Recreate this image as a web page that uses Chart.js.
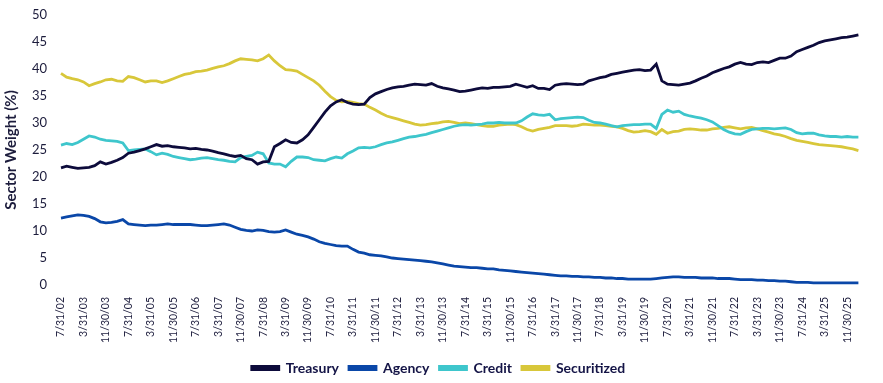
<!DOCTYPE html>
<html>
<head>
<meta charset="utf-8">
<script src="https://cdn.jsdelivr.net/npm/chart.js@4.4.1/dist/chart.umd.min.js"></script>
<style>
    html, body { margin: 0; padding: 0; background: #fff; }
    #wrap { width: 883px; height: 383px; }
</style>
</head>
<body>
<div id="wrap"><canvas id="sectorChart" width="883" height="383"></canvas></div>
<script>
// Sector weights, bi-monthly from 7/31/02
const startYear = 2002, startMonth = 6; // July
const stepMonths = 2;

const tickLabels = [
    '7/31/02', '3/31/03', '11/30/03', '7/31/04', '3/31/05', '11/30/05', '7/31/06', '3/31/07', '11/30/07',
    '7/31/08', '3/31/09', '11/30/09', '7/31/10', '3/31/11', '11/30/11', '7/31/12', '3/31/13', '11/30/13',
    '7/31/14', '3/31/15', '11/30/15', '7/31/16', '3/31/17', '11/30/17', '7/31/18', '3/31/19', '11/30/19',
    '7/31/20', '3/31/21', '11/30/21', '7/31/22', '3/31/23', '11/30/23', '7/31/24', '3/31/25', '11/30/25'
];

const treasury = [
    21.7, 22.0, 21.8, 21.6, 21.7, 21.8, 22.1, 22.8, 22.4, 22.7, 23.1, 23.6, 24.4, 24.6, 24.9, 25.2,
    25.6, 26.0, 25.7, 25.8, 25.6, 25.5, 25.4, 25.2, 25.3, 25.1, 25.0, 24.8, 24.5, 24.3, 24.0, 23.8,
    24.0, 23.4, 23.2, 22.4, 22.8, 22.9, 25.6, 26.2, 26.9, 26.4, 26.3, 26.9, 27.8, 29.2, 30.6, 32.0,
    33.2, 33.9, 34.3, 33.8, 33.5, 33.4, 33.5, 34.7, 35.4, 35.8, 36.2, 36.5, 36.7, 36.8, 37.0, 37.2,
    37.1, 37.0, 37.3, 36.8, 36.5, 36.3, 36.1, 35.8, 35.9, 36.1, 36.3, 36.5, 36.4, 36.6, 36.6, 36.7,
    36.8, 37.2, 36.9, 36.6, 36.9, 36.4, 36.4, 36.2, 37.0, 37.2, 37.3, 37.2, 37.1, 37.2, 37.8, 38.1,
    38.4, 38.6, 39.0, 39.2, 39.4, 39.6, 39.8, 39.9, 39.7, 39.8, 40.9, 37.8, 37.2, 37.1, 37.0, 37.2,
    37.4, 37.8, 38.3, 38.7, 39.3, 39.7, 40.1, 40.4, 40.9, 41.2, 40.9, 40.8, 41.2, 41.3, 41.2, 41.6,
    42.0, 42.0, 42.4, 43.2, 43.6, 44.0, 44.4, 44.9, 45.2, 45.4, 45.6, 45.8, 45.9, 46.1, 46.3
];

const agency = [
    12.4, 12.6, 12.8, 13.0, 12.9, 12.7, 12.3, 11.7, 11.5, 11.6, 11.8, 12.1, 11.3, 11.2, 11.1, 11.0,
    11.1, 11.1, 11.2, 11.3, 11.2, 11.2, 11.2, 11.2, 11.1, 11.0, 11.0, 11.1, 11.2, 11.3, 11.1, 10.7,
    10.3, 10.1, 10.0, 10.2, 10.1, 9.9, 9.8, 9.9, 10.2, 9.8, 9.4, 9.2, 8.9, 8.5, 8.0, 7.7,
    7.5, 7.3, 7.2, 7.2, 6.6, 6.1, 5.9, 5.6, 5.5, 5.4, 5.2, 5.0, 4.9, 4.8, 4.7, 4.6,
    4.5, 4.4, 4.3, 4.1, 3.9, 3.7, 3.5, 3.4, 3.3, 3.2, 3.2, 3.1, 3.0, 3.0, 2.8, 2.7,
    2.6, 2.5, 2.4, 2.3, 2.2, 2.1, 2.0, 1.9, 1.8, 1.7, 1.7, 1.6, 1.6, 1.5, 1.5, 1.4,
    1.4, 1.3, 1.3, 1.2, 1.2, 1.1, 1.1, 1.1, 1.1, 1.1, 1.2, 1.3, 1.4, 1.5, 1.5, 1.4,
    1.4, 1.4, 1.3, 1.3, 1.3, 1.2, 1.2, 1.2, 1.1, 1.0, 1.0, 1.0, 0.9, 0.9, 0.8, 0.8,
    0.7, 0.7, 0.6, 0.5, 0.5, 0.5, 0.4, 0.4, 0.4, 0.4, 0.4, 0.4, 0.4, 0.4, 0.4
];

const credit = [
    25.9, 26.2, 26.0, 26.4, 27.0, 27.6, 27.4, 27.0, 26.8, 26.7, 26.6, 26.3, 24.9, 25.0, 25.1, 25.2,
    24.7, 24.1, 24.4, 24.2, 23.8, 23.6, 23.4, 23.2, 23.3, 23.5, 23.6, 23.4, 23.2, 23.1, 22.9, 22.8,
    23.6, 23.8, 24.0, 24.6, 24.3, 22.6, 22.4, 22.4, 21.9, 22.9, 23.7, 23.7, 23.6, 23.2, 23.1, 23.0,
    23.4, 23.7, 23.5, 24.3, 24.8, 25.4, 25.5, 25.4, 25.6, 26.0, 26.3, 26.5, 26.8, 27.1, 27.4, 27.5,
    27.7, 27.9, 28.2, 28.5, 28.8, 29.1, 29.4, 29.6, 29.7, 29.6, 29.7, 29.8, 30.0, 30.0, 30.1, 30.0,
    30.0, 30.0, 30.4, 31.1, 31.7, 31.5, 31.4, 31.6, 30.6, 30.8, 30.9, 31.0, 31.1, 31.0, 30.5, 30.1,
    30.0, 29.8, 29.5, 29.3, 29.5, 29.6, 29.7, 29.7, 29.8, 29.8, 29.0, 31.6, 32.4, 32.0, 32.2, 31.6,
    31.3, 31.1, 30.9, 30.6, 30.2, 29.5, 28.8, 28.3, 28.0, 27.9, 28.4, 28.8, 28.9, 29.0, 29.0, 28.9,
    29.0, 29.1, 28.8, 28.2, 28.0, 28.1, 28.1, 27.8, 27.6, 27.5, 27.5, 27.4, 27.5, 27.4, 27.4
];

const securitized = [
    39.2, 38.5, 38.2, 38.0, 37.6, 36.9, 37.3, 37.6, 38.0, 38.1, 37.8, 37.7, 38.6, 38.4, 38.0, 37.6,
    37.8, 37.8, 37.5, 37.8, 38.2, 38.6, 39.0, 39.2, 39.5, 39.6, 39.8, 40.1, 40.4, 40.6, 41.0, 41.5,
    41.9, 41.8, 41.7, 41.5, 41.9, 42.6, 41.5, 40.6, 39.9, 39.8, 39.6, 39.0, 38.4, 37.8, 37.0, 35.9,
    34.9, 34.2, 33.9, 34.0, 33.8, 33.6, 33.5, 32.9, 32.4, 31.8, 31.3, 31.0, 30.7, 30.4, 30.1, 29.8,
    29.6, 29.7, 29.9, 30.0, 30.2, 30.3, 30.1, 29.9, 30.0, 29.9, 29.7, 29.5, 29.4, 29.4, 29.6, 29.7,
    29.8, 29.7, 29.3, 28.8, 28.5, 28.8, 29.0, 29.2, 29.5, 29.5, 29.5, 29.4, 29.5, 29.8, 29.7, 29.6,
    29.6, 29.5, 29.4, 29.3, 29.0, 28.6, 28.3, 28.4, 28.6, 28.4, 27.9, 28.8, 28.1, 28.4, 28.5, 28.8,
    28.9, 28.8, 28.7, 28.7, 28.9, 29.0, 29.2, 29.3, 29.1, 28.9, 29.1, 29.2, 28.9, 28.6, 28.3, 28.0,
    27.8, 27.5, 27.1, 26.8, 26.6, 26.4, 26.2, 26.0, 25.9, 25.8, 25.7, 25.6, 25.4, 25.2, 24.9
];

// month-end category dates
const categories = treasury.map((_, i) => {
    const d = new Date(startYear, startMonth + i * stepMonths + 1, 0);
    return `${d.getMonth() + 1}/${d.getDate()}/${String(d.getFullYear()).slice(2)}`;
});

const fontFamily = "Lato, 'Open Sans', sans-serif";
const textColor = '#1c1c3c';

const series = [
    { label: 'Treasury', data: treasury, color: '#0d0b3b' },
    { label: 'Agency', data: agency, color: '#0a47a8' },
    { label: 'Credit', data: credit, color: '#3ec6cc' },
    { label: 'Securitized', data: securitized, color: '#d8c73a' }
];

new Chart(document.getElementById('sectorChart').getContext('2d'), {
    type: 'line',
    data: {
        labels: categories,
        datasets: series.map(s => ({
            label: s.label,
            data: s.data,
            borderColor: s.color,
            backgroundColor: s.color,
            borderWidth: 2.8,
            pointRadius: 0,
            tension: 0,
            fill: false
        }))
    },
    options: {
        responsive: false,
        animation: false,
        layout: { padding: { top: 0, right: 6, left: 0, bottom: -2 } },
        plugins: {
            tooltip: { enabled: false },
            legend: {
                position: 'bottom',
                labels: {
                    boxWidth: 27,
                    boxHeight: 3,
                    padding: 10,
                    color: '#141446',
                    font: { family: fontFamily, size: 14, weight: 'bold' }
                }
            }
        },
        scales: {
            x: {
                grid: { display: false, drawTicks: false },
                border: { display: false },
                afterFit: scale => { scale.height = 66; },
                ticks: {
                    autoSkip: false,
                    minRotation: 90,
                    maxRotation: 90,
                    padding: 12,
                    color: textColor,
                    font: { family: fontFamily, size: 10.5 },
                    callback: (val, idx) => idx % 4 === 0 ? tickLabels[idx / 4] : ''
                }
            },
            y: {
                min: 0,
                max: 50,
                grid: { display: false, drawTicks: false },
                border: { display: false },
                afterFit: scale => { scale.width = 61; scale.paddingTop = 15; },
                title: {
                    display: true,
                    text: 'Sector Weight (%)',
                    color: textColor,
                    font: { family: fontFamily, size: 15, weight: 'bold' },
                    padding: { top: 2, bottom: 0 }
                },
                ticks: {
                    stepSize: 5,
                    padding: 14,
                    color: textColor,
                    font: { family: fontFamily, size: 13 }
                }
            }
        }
    }
});
</script>
</body>
</html>
